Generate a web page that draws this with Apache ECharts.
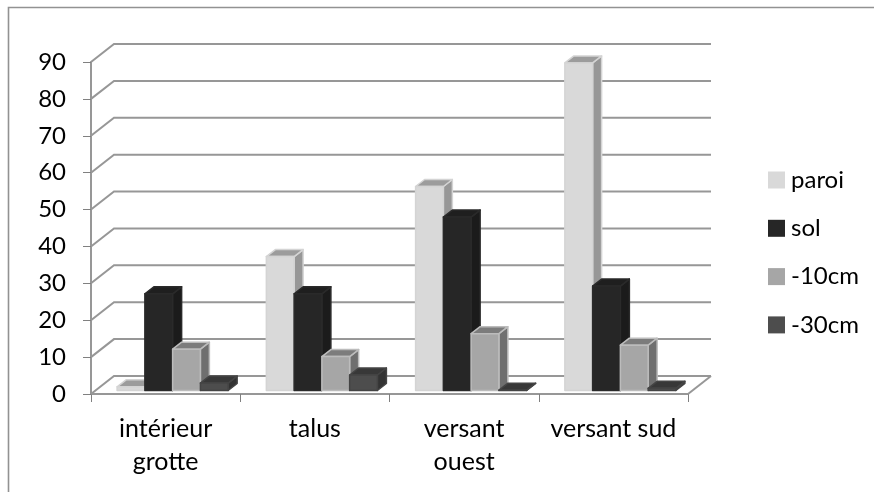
<!DOCTYPE html>
<html>
<head>
<meta charset="utf-8">
<style>html,body{margin:0;padding:0;background:#fff}#c{width:874px;height:492px}</style>
<script src="https://cdn.jsdelivr.net/npm/echarts@6/dist/echarts.min.js"></script>
</head>
<body>
<div id="c"></div>
<script>
const categories = ['intérieur\ngrotte', 'talus', 'versant\nouest', 'versant sud'];
const yTicks = [0, 10, 20, 30, 40, 50, 60, 70, 80, 90];
const paroi = [1, 36.3, 55.3, 88.8];
const sol = [26.2, 26.2, 47, 28.3];
const cm10 = [11.2, 9.2, 15.4, 12.3];
const cm30 = [2, 4.2, 0.1, 0.6];
const seriesNames = ['paroi', 'sol', '-10cm', '-30cm'];
const seriesValues = [paroi, sol, cm10, cm30];
const faceColors = ['#d9d9d9', '#262626', '#a6a6a6', '#4d4d4d'];
const sideColors = ['#979797', '#1b1b1b', '#6f6f6f', '#333333'];
const topColors = ['#9c9c9c', '#1f1f1f', '#7c7c7c', '#383838'];
const edgeColors = ['#d4d4d4', '#2a2a2a', '#bcbcbc', '#444444'];

const font = 'Lato';
const wallDx = 23, wallDy = 18;      // depth of the chart floor
const barDx = 9, barDy = 7;          // depth of a bar
const planeDx = 7, planeDy = 3.5;    // bar front plane behind the axis plane
const barFrac = 0.186;

function poly(points, fill, edge) {
  return { type: 'polygon', shape: { points }, style: { fill, stroke: edge, lineWidth: 1.5, lineJoin: 'round' } };
}

function renderBar(si) {
  return function (params, api) {
    const c = api.value(0), v = api.value(1);
    const base = api.coord([c, 0]);
    const top = api.coord([c, v]);
    const bw = api.size([1, 0])[0] * barFrac;
    const x0 = base[0] + planeDx + (si - 2) * bw;
    const x1 = x0 + bw;
    const yb = base[1] - planeDy;
    const yt = top[1] - planeDy;
    return {
      type: 'group',
      children: [
        poly([[x1, yb], [x1 + barDx, yb - barDy], [x1 + barDx, yt - barDy], [x1, yt]], sideColors[si], edgeColors[si]),
        poly([[x0, yt], [x0 + barDx, yt - barDy], [x1 + barDx, yt - barDy], [x1, yt]], topColors[si], edgeColors[si]),
        poly([[x0, yb], [x1, yb], [x1, yt], [x0, yt]], faceColors[si], edgeColors[si])
      ]
    };
  };
}

function renderWall(params, api) {
  const v = api.value(1);
  const cs = params.coordSys;
  const y = api.coord([0, v])[1];
  const xl = cs.x, xr = cs.x + cs.width;
  const lineStyle = { stroke: '#979797', lineWidth: 2, fill: null };
  const children = [{
    type: 'polyline',
    shape: { points: [[xl, y], [xl + wallDx, y - wallDy], [xr + wallDx, y - wallDy]] },
    style: lineStyle
  }];
  if (v === 0) {
    children.push({
      type: 'line',
      shape: { x1: xr, y1: y, x2: xr + wallDx, y2: y - wallDy },
      style: lineStyle
    });
  }
  return { type: 'group', children };
}

const chart = echarts.init(document.getElementById('c'), null, { renderer: 'canvas' });
chart.setOption({
  animation: false,
  backgroundColor: '#fff',
  graphic: [{
    type: 'polyline',
    shape: { points: [[8.5, 492], [8.5, 7.5], [874, 7.5]] },
    style: { fill: null, stroke: '#929292', lineWidth: 1.6 },
    silent: true
  }],
  grid: { left: 91, top: 62, width: 597, height: 332, containLabel: false },
  xAxis: {
    type: 'category',
    data: categories,
    boundaryGap: true,
    axisLine: { show: true, lineStyle: { color: '#979797', width: 2 } },
    axisTick: { show: true, length: 8, lineStyle: { color: '#808080', width: 1 } },
    axisLabel: { color: '#000', fontFamily: font, fontSize: 25, lineHeight: 33, margin: 18, interval: 0 }
  },
  yAxis: {
    type: 'value',
    min: 0,
    max: 90,
    interval: 10,
    splitLine: { show: false },
    axisLine: { show: true, lineStyle: { color: '#979797', width: 2 } },
    axisTick: { show: true, length: 8, lineStyle: { color: '#808080', width: 1 } },
    axisLabel: { color: '#000', fontFamily: font, fontSize: 24, margin: 25 }
  },
  legend: {
    data: seriesNames,
    orient: 'vertical',
    left: 768,
    top: 168,
    padding: 0,
    itemWidth: 17,
    itemHeight: 17,
    itemGap: 24.3,
    icon: 'rect',
    selectedMode: false,
    textStyle: { color: '#000', fontFamily: font, fontSize: 24, padding: [0, 0, 0, 1] }
  },
  series: [
    {
      type: 'custom',
      name: 'walls',
      silent: true,
      clip: false,
      renderItem: renderWall,
      data: yTicks.map(t => [0, t]),
      z: 1
    }
  ].concat(seriesNames.map((name, si) => ({
    type: 'custom',
    name,
    clip: false,
    renderItem: renderBar(si),
    itemStyle: { color: faceColors[si] },
    encode: { x: 0, y: 1 },
    data: seriesValues[si].map((v, i) => [i, v]),
    z: 3
  })))
});
</script>
</body>
</html>
